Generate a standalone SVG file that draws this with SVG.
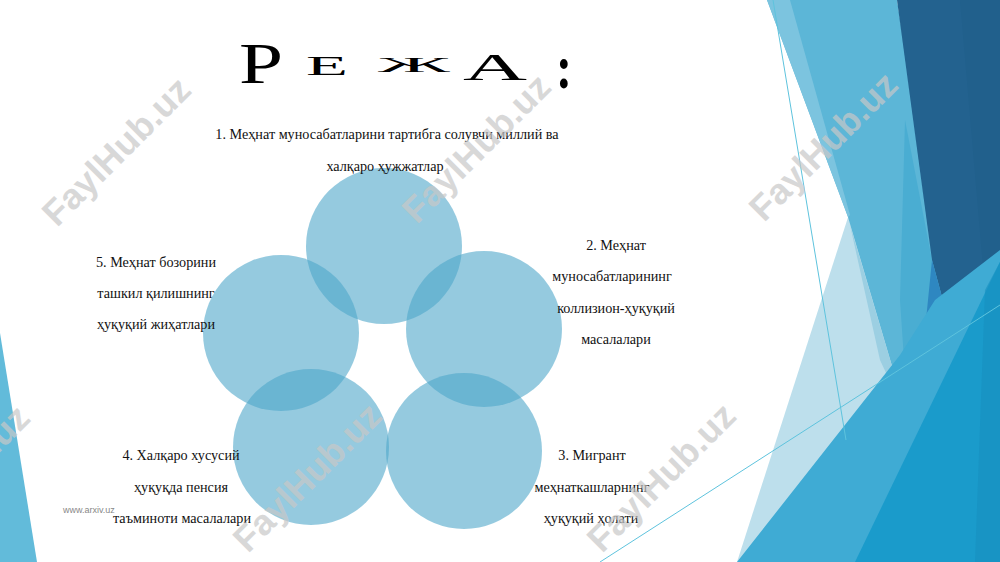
<svg xmlns="http://www.w3.org/2000/svg" width="1000" height="562" viewBox="0 0 1000 562">
<style>
.lbl{font-family:"Liberation Serif","Times New Roman",serif;font-size:14.2px;fill:#111;text-anchor:middle}
.ttl{font-family:"Liberation Serif","Times New Roman",serif;fill:#000}
.wm{font-family:"Liberation Sans",Arial,sans-serif;font-weight:bold;font-size:36px;fill:#c8c8c8;opacity:0.7;text-anchor:middle}
.c{fill:#4ea7c9;fill-opacity:0.6}
.thin{stroke:#5ec3dd;stroke-width:1;fill:none}
</style>
<rect width="1000" height="562" fill="#ffffff"/>
<g id="background">
  <polygon points="0,333 37,562 0,562" fill="#62bbda"/>
  <polygon points="918,0 1000,0 1000,562 737,562" fill="#bddfec"/>
  <polygon points="767,0 897,0 950,330 908,420 848,217" fill="#5cb6d7"/>
  <polygon points="767,0 790,0 850,215 848,217" fill="#7cc4df"/>
  <polygon points="850,225 908,420 880,360" fill="#9ccfe2"/>
  <polygon points="905,120 932,260 950,330 908,420 900,300" fill="#4aadd2"/>
  <polygon points="897,0 1000,0 1000,262 955,345 932,260" fill="#23628f"/>
  <polygon points="960,0 1000,0 1000,262 985,290" fill="#21608c"/>
  <polygon points="932,260 955,345 905,440 925,330" fill="#2e87c1"/>
  <polygon points="737,562 900,355 935,300 1000,250 1000,562" fill="#3fabd4"/>
  <polygon points="1000,262 1000,562 855,562" fill="#1a9bcb"/>
  <polygon points="985,290 1000,262 1000,562 975,562" fill="#1890c0" opacity="0.6"/>
  <line class="thin" x1="773" y1="0" x2="846" y2="440"/>
  <line class="thin" x1="600" y1="562" x2="1000" y2="305"/>
</g>
<g id="title">
  <text class="ttl" x="239" y="83" font-size="57" textLength="44" lengthAdjust="spacingAndGlyphs">Р</text>
  <text class="ttl" x="306" y="75" font-size="27" textLength="42" lengthAdjust="spacingAndGlyphs">Е</text>
  <text class="ttl" x="378" y="72" font-size="21" textLength="72" lengthAdjust="spacingAndGlyphs">Ж</text>
  <text class="ttl" x="463" y="80" font-size="38" textLength="64" lengthAdjust="spacingAndGlyphs">А</text>
  <text class="ttl" x="556" y="88" font-size="62" font-weight="bold" textLength="16" lengthAdjust="spacingAndGlyphs">:</text>
</g>
<g id="node1">
  <circle class="c" cx="384" cy="246" r="78"/>
  <text class="lbl" x="387" y="139">1. Меҳнат муносабатларини тартибга солувчи миллий ва</text>
  <text class="lbl" x="385" y="171">халқаро ҳужжатлар</text>
</g>
<g id="node2">
  <circle class="c" cx="484" cy="329" r="78"/>
  <text class="lbl" x="616" y="250">2. Меҳнат</text>
  <text class="lbl" x="612" y="281">муносабатларининг</text>
  <text class="lbl" x="616" y="313">коллизион-ҳуқуқий</text>
  <text class="lbl" x="616" y="344">масалалари</text>
</g>
<g id="node3">
  <circle class="c" cx="464" cy="451" r="78"/>
  <text class="lbl" x="592" y="460">3. Мигрант</text>
  <text class="lbl" x="592" y="492">меҳнаткашларнинг</text>
  <text class="lbl" x="591" y="523">ҳуқуқий ҳолати</text>
</g>
<g id="node4">
  <circle class="c" cx="311" cy="447" r="78"/>
  <text class="lbl" x="181" y="460">4. Халқаро хусусий</text>
  <text class="lbl" x="181" y="492">ҳуқуқда пенсия</text>
  <text class="lbl" x="182" y="523">таъминоти масалалари</text>
</g>
<g id="node5">
  <circle class="c" cx="281" cy="333" r="78"/>
  <text class="lbl" x="156" y="267">5. Меҳнат бозорини</text>
  <text class="lbl" x="156" y="298">ташкил қилишнинг</text>
  <text class="lbl" x="156" y="329">ҳуқуқий жиҳатлари</text>
</g>
<text x="63" y="513" font-family="'Liberation Sans',Arial,sans-serif" font-size="9" fill="#888">www.arxiv.uz</text>
<g id="watermarks">
  <text class="wm" transform="translate(125,160) rotate(-45)">FaylHub.uz</text>
  <text class="wm" transform="translate(485,157) rotate(-45)">FaylHub.uz</text>
  <text class="wm" transform="translate(832,155) rotate(-45)">FaylHub.uz</text>
  <text class="wm" transform="translate(-36,488) rotate(-45)">FaylHub.uz</text>
  <text class="wm" transform="translate(316,486) rotate(-45)">FaylHub.uz</text>
  <text class="wm" transform="translate(670,486) rotate(-45)">FaylHub.uz</text>
</g>
</svg>
